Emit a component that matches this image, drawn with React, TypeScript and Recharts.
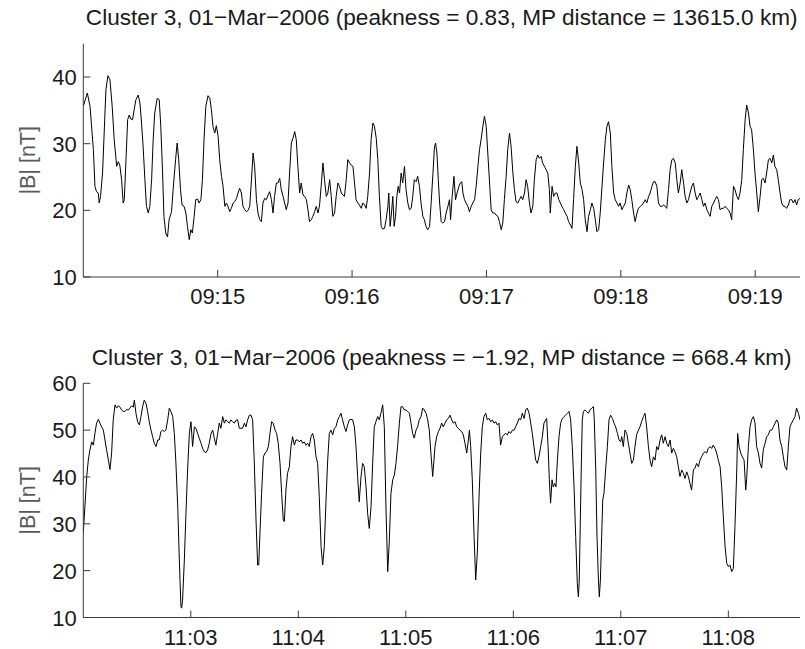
import React from 'react';
import { LineChart, Line, XAxis, YAxis } from 'recharts';

// ---- Data: [seconds since panel start, |B| in nT] ----
// Top panel: start 09:14:00
const topSamples: [number, number][] = [
  [0,35.6],[1.8,37.6],[3.0,35.6],[4.5,29.1],[5.2,23.6],[5.9,22.8],[6.7,22.6],[7.1,21.1],[7.7,22.1],[8.6,25.6],
  [9.2,30.6],[10.1,38.1],[11.0,40.2],[11.9,39.6],[12.9,35.6],[13.8,30.6],[14.9,26.6],[15.6,27.3],[16.3,26.8],[17.1,24.6],
  [17.8,21.1],[18.3,21.6],[19.0,27.1],[19.8,33.6],[20.5,34.3],[21.2,33.7],[22.0,33.6],[22.7,35.1],[23.5,36.6],[24.5,37.3],
  [25.3,36.1],[26.0,33.1],[26.7,29.6],[27.5,24.6],[28.2,20.6],[29.0,19.6],[29.7,20.6],[30.5,24.6],[31.2,30.6],[31.9,34.6],
  [33.0,36.8],[33.9,36.6],[34.6,32.6],[35.4,25.6],[36.0,19.1],[36.8,16.6],[37.6,16.0],[38.3,18.6],[39.4,19.8],[40.1,23.1],
  [41.2,27.6],[41.9,30.1],[42.6,27.6],[43.4,23.1],[44.1,20.8],[45.0,20.6],[45.8,19.6],[46.5,17.6],[47.3,15.6],[48.0,17.1],
  [48.7,16.6],[49.5,19.1],[50.2,21.6],[51.0,21.7],[51.7,21.1],[52.5,21.6],[53.2,24.6],[53.9,30.6],[54.7,35.6],[55.7,37.2],
  [56.5,36.8],[57.2,35.1],[57.9,32.6],[58.7,31.6],[59.4,32.7],[60.2,31.1],[60.9,27.6],[61.7,25.1],[62.4,23.6],[63.2,20.6],
  [63.9,21.1],[64.6,20.6],[65.4,19.8],[66.1,20.3],[66.9,21.1],[67.6,21.3],[68.4,21.8],[69.1,22.6],[69.8,23.3],[70.6,22.6],
  [71.3,20.6],[72.1,20.1],[72.8,19.8],[73.6,20.0],[74.3,20.6],[75.0,24.1],[75.8,28.6],[76.5,26.6],[77.3,21.6],[78.0,19.6],
  [78.8,18.6],[79.5,18.3],[80.2,21.1],[81.0,21.8],[81.7,21.6],[82.5,22.3],[83.2,22.8],[84.0,21.6],[84.7,19.6],[85.4,22.1],
  [86.2,24.1],[86.9,24.1],[87.7,24.8],[88.4,23.1],[89.2,22.1],[89.9,21.1],[90.6,20.1],[91.4,21.1],[92.1,25.6],[92.9,30.1],
  [93.6,30.8],[94.4,31.8],[95.1,30.6],[95.8,26.6],[96.6,22.6],[97.3,24.1],[98.1,22.3],[98.8,22.1],[99.6,21.6],[100.3,20.1],
  [101.0,18.3],[101.8,18.6],[102.5,19.1],[103.3,19.8],[104.0,20.6],[104.8,19.6],[105.5,20.8],[106.2,23.6],[107.0,27.1],[107.7,24.6],
  [108.5,22.1],[109.2,22.6],[110.0,24.6],[110.7,22.1],[111.4,19.1],[112.2,19.6],[112.9,22.1],[113.7,24.1],[114.4,23.6],[115.2,22.6],
  [115.9,22.3],[116.6,22.1],[117.4,24.6],[118.1,27.6],[118.9,27.1],[119.6,26.8],[120.4,26.6],[121.1,24.1],[121.8,21.6],[122.6,21.1],
  [123.3,20.8],[124.1,20.3],[124.8,21.1],[125.6,20.8],[126.3,20.3],[127.0,22.1],[127.8,25.6],[128.5,30.6],[129.3,33.1],[130.0,32.6],
  [130.8,30.8],[131.5,27.6],[132.2,22.1],[133.0,17.6],[133.7,17.2],[134.5,17.3],[135.2,18.6],[136.0,20.6],[136.4,22.6],[137.0,17.6],
  [137.6,19.6],[138.2,22.1],[138.8,17.6],[139.4,19.1],[140.0,22.1],[140.6,23.6],[141.2,22.6],[141.9,25.6],[142.6,24.1],[143.4,26.6],
  [144.1,23.1],[144.9,21.1],[145.6,20.1],[146.4,20.3],[147.1,22.1],[147.8,24.6],[148.6,24.3],[149.3,25.1],[150.1,23.6],[150.8,21.1],
  [151.6,19.1],[152.3,18.6],[153.0,17.6],[153.8,17.1],[154.6,17.6],[155.3,21.0],[156.1,25.5],[156.8,29.5],[157.3,30.1],[157.9,28.6],
  [158.5,24.6],[159.1,21.1],[159.8,18.3],[160.5,18.1],[161.3,18.3],[162.0,19.6],[162.8,20.6],[163.5,21.6],[164.0,18.6],[164.7,22.1],
  [165.5,25.1],[166.2,21.6],[166.9,22.6],[167.7,23.6],[168.3,24.1],[169.0,24.3],[169.5,22.6],[170.2,21.6],[170.9,21.1],[171.7,20.6],
  [172.4,19.8],[173.2,20.6],[173.9,21.1],[174.7,21.6],[175.4,23.6],[176.2,26.6],[176.9,29.1],[177.6,30.6],[178.4,32.6],[179.1,34.1],
  [179.9,32.6],[180.6,28.6],[181.4,24.1],[182.1,20.1],[182.8,19.6],[183.6,19.6],[184.3,19.3],[185.1,19.1],[185.8,18.3],[186.6,17.1],
  [187.3,18.1],[188.0,21.6],[188.8,25.1],[189.5,29.1],[190.3,31.6],[191.0,29.6],[191.8,25.6],[192.5,23.1],[193.2,21.3],[194.0,21.1],
  [194.7,21.6],[195.5,22.1],[196.2,21.6],[197.0,22.6],[197.7,24.6],[198.4,23.6],[199.2,21.1],[199.9,19.6],[200.7,20.6],[201.4,24.6],
  [202.2,27.6],[202.9,28.3],[203.6,27.8],[204.4,28.1],[205.1,27.1],[205.9,26.6],[206.6,26.1],[207.4,25.6],[208.1,23.1],[208.5,19.6],
  [209.3,23.6],[210.0,22.1],[210.8,22.6],[211.5,22.6],[212.3,21.6],[213.0,21.1],[213.7,20.6],[214.5,20.1],[215.2,19.6],[216.0,19.1],
  [216.7,18.3],[217.5,17.8],[218.2,17.3],[218.9,21.6],[219.7,26.6],[220.4,29.6],[221.2,27.1],[221.9,24.1],[222.7,23.1],[223.4,21.6],
  [224.1,18.6],[224.9,16.8],[225.6,19.1],[226.4,20.1],[227.1,21.1],[227.9,20.3],[228.6,18.6],[229.3,16.8],[230.1,17.1],[230.8,19.6],
  [231.6,23.6],[232.3,27.1],[233.1,30.6],[233.8,32.6],[234.5,33.3],[235.3,31.6],[236.0,26.6],[236.8,22.6],[237.5,21.6],[238.3,21.1],
  [239.0,20.6],[239.7,21.1],[240.5,20.1],[241.2,20.6],[242.0,21.1],[242.7,22.6],[243.5,23.8],[244.2,23.1],[244.9,21.6],[245.7,19.6],
  [246.4,18.3],[247.2,19.6],[247.9,20.3],[248.7,20.6],[249.4,20.8],[250.1,21.1],[250.9,21.6],[251.6,21.1],[252.4,22.1],[253.1,22.6],
  [253.9,23.6],[254.6,24.3],[255.3,24.3],[256.1,23.6],[256.8,21.1],[257.6,20.6],[258.3,20.6],[259.1,20.8],[259.8,20.6],[260.5,20.3],
  [261.3,23.1],[262.0,26.1],[262.8,27.6],[263.5,27.8],[264.3,27.1],[265.0,24.6],[265.7,22.6],[266.5,24.1],[267.2,26.1],[268.0,24.1],
  [268.7,22.1],[269.5,21.1],[270.2,21.6],[270.9,22.6],[271.7,23.6],[272.4,24.1],[273.2,22.6],[273.9,21.6],[274.7,22.1],[275.4,22.6],
  [276.2,21.6],[276.9,20.6],[277.6,21.1],[278.4,20.1],[279.1,19.6],[279.9,19.1],[280.6,20.6],[281.4,21.1],[282.1,21.6],[282.8,22.1],
  [283.6,21.6],[284.3,20.1],[285.1,20.3],[285.8,20.3],[286.6,20.6],[287.3,20.3],[288.0,20.1],[288.8,19.6],[289.5,18.6],[290.3,23.6],
  [291.0,23.1],[291.8,22.1],[292.5,21.6],[293.2,22.6],[294.0,24.6],[294.7,29.1],[295.5,33.6],[296.2,35.8],[297.0,34.6],[297.7,32.6],
  [298.4,32.1],[299.2,29.1],[299.9,25.6],[300.7,22.6],[301.4,19.8],[302.2,22.1],[302.9,24.6],[303.6,24.8],[304.4,24.1],[305.1,25.6],
  [305.9,27.6],[306.6,27.8],[307.4,27.1],[308.1,28.3],[308.8,26.6],[309.6,26.1],[310.3,24.6],[311.1,22.6],[311.8,21.1],[312.6,20.6],
  [313.3,20.6],[314.0,20.3],[314.8,20.8],[315.5,21.6],[316.3,21.6],[317.0,21.1],[317.8,21.6],[318.5,20.8],[319.2,21.6],[320.0,21.8],
];

// Bottom panel: start 11:02:00
const bottomSamples: [number, number][] = [
  [0.0,28.0],[0.9,33.7],[1.9,40.1],[2.8,43.6],[3.7,45.8],[4.7,47.5],[5.6,46.8],[6.5,49.3],[7.4,51.5],[8.4,52.3],
  [9.3,51.5],[10.2,50.7],[11.2,50.0],[12.1,47.9],[13.0,45.8],[14.0,43.6],[14.9,41.6],[15.8,45.1],[16.7,52.2],[17.7,55.4],
  [18.6,54.7],[19.5,55.2],[20.5,54.9],[21.4,54.3],[22.3,54.0],[23.3,54.0],[24.2,54.4],[25.1,54.3],[26.0,54.7],[27.0,55.2],
  [27.9,54.9],[28.5,56.4],[29.4,53.6],[30.3,51.8],[31.3,51.1],[32.2,52.9],[33.1,55.0],[34.0,56.4],[35.0,55.7],[35.9,54.0],
  [36.8,51.8],[37.8,50.0],[38.7,48.6],[39.6,47.2],[40.6,46.5],[41.5,47.9],[42.4,47.9],[43.3,49.7],[44.3,50.0],[45.2,49.7],
  [46.1,50.0],[47.1,52.2],[48.0,54.7],[48.9,54.0],[49.9,52.9],[50.8,49.3],[51.7,42.9],[52.7,33.7],[53.6,22.3],[54.5,12.3],
  [54.9,12.0],[55.4,13.7],[56.4,22.3],[57.3,32.2],[58.2,41.5],[59.2,49.3],[60.1,51.8],[61.0,46.5],[62.0,50.7],[62.9,50.4],
  [63.8,49.3],[64.7,48.3],[65.7,47.2],[66.6,46.1],[67.5,45.4],[68.5,45.2],[69.4,45.8],[70.3,47.2],[71.3,49.3],[72.2,50.0],
  [73.1,48.3],[74.0,46.8],[75.0,49.3],[75.9,51.5],[76.8,50.4],[77.8,52.9],[78.7,51.5],[79.6,52.2],[80.6,51.8],[81.5,51.5],
  [82.4,52.2],[83.3,51.8],[84.3,51.5],[85.2,52.1],[86.1,52.2],[87.1,50.4],[88.0,50.4],[88.9,50.4],[89.9,51.5],[90.8,50.7],
  [91.7,52.2],[92.7,53.2],[93.6,53.2],[94.5,52.2],[95.4,43.6],[96.4,30.8],[97.3,21.2],[97.9,21.2],[98.6,28.0],[99.5,36.5],
  [100.5,44.3],[101.4,45.1],[102.3,45.4],[103.3,46.5],[104.2,49.3],[105.1,51.8],[106.0,51.5],[107.0,50.0],[107.9,49.3],[108.8,47.2],
  [109.8,42.9],[110.7,36.5],[111.6,30.8],[112.2,30.5],[113.1,37.2],[114.0,40.8],[115.0,42.2],[115.9,46.5],[116.8,48.6],[117.8,46.8],
  [118.7,47.9],[119.6,47.9],[120.6,47.5],[121.5,47.9],[122.4,47.2],[123.3,47.5],[124.3,46.8],[125.2,47.2],[126.1,46.5],[127.1,48.6],
  [128.0,49.3],[128.9,47.9],[129.9,44.3],[130.8,42.9],[131.7,35.8],[132.7,25.1],[133.6,21.2],[134.5,25.1],[135.4,34.4],[136.4,43.6],
  [137.3,49.3],[138.2,50.0],[139.2,49.0],[140.1,50.4],[141.0,50.7],[142.0,52.2],[142.9,52.9],[143.8,53.6],[144.7,52.2],[145.7,50.7],
  [146.6,49.7],[147.5,51.1],[148.5,52.2],[149.4,52.3],[150.3,52.2],[151.3,50.7],[152.2,46.5],[153.1,40.1],[154.0,34.7],[155.0,40.1],
  [155.9,42.9],[156.8,42.2],[157.8,37.9],[158.7,32.2],[159.6,29.0],[160.6,33.7],[161.5,42.9],[162.4,50.7],[163.3,51.8],[164.3,52.9],
  [165.2,52.2],[166.1,53.6],[167.1,55.4],[168.0,50.7],[168.9,33.7],[169.9,19.8],[170.8,26.5],[171.7,36.5],[172.7,39.4],[173.6,40.4],
  [174.5,42.9],[175.4,46.5],[176.4,51.5],[177.3,55.0],[178.2,55.0],[179.2,54.3],[180.1,54.3],[181.0,54.0],[182.0,53.6],[182.9,51.5],
  [183.8,49.3],[184.7,48.3],[185.7,50.0],[186.6,50.7],[187.5,52.2],[188.5,52.9],[189.4,54.7],[190.3,54.3],[191.3,53.6],[192.2,52.2],
  [193.1,50.0],[194.0,45.1],[195.0,40.1],[196.3,46.5],[197.2,48.6],[198.2,49.7],[199.1,50.4],[200.0,51.5],[200.9,50.7],[201.9,51.5],
  [202.8,52.2],[203.7,52.5],[204.7,53.2],[205.6,52.2],[206.5,51.5],[207.5,51.8],[208.4,50.7],[209.3,50.4],[210.2,50.0],[211.2,49.7],
  [212.1,49.0],[213.0,47.2],[214.0,45.1],[214.9,47.9],[215.5,50.0],[216.2,46.5],[217.1,39.4],[218.1,27.3],[219.0,18.0],[219.9,23.7],
  [220.8,35.1],[221.8,45.1],[222.7,50.7],[223.6,52.9],[224.6,53.6],[225.5,52.2],[226.4,52.5],[227.4,51.8],[228.3,52.2],[229.2,51.5],
  [230.2,51.8],[231.1,51.1],[232.0,51.5],[232.9,46.8],[233.9,48.6],[234.8,49.0],[235.7,49.3],[236.7,49.0],[237.6,49.7],[238.5,49.3],
  [239.5,50.0],[240.4,50.0],[241.3,50.7],[242.2,51.5],[243.2,52.5],[244.1,52.2],[245.0,53.6],[246.0,52.5],[246.9,54.3],[247.8,54.7],
  [248.8,53.6],[249.7,51.5],[250.6,49.3],[251.5,46.5],[252.5,43.6],[253.4,42.9],[254.3,44.3],[255.3,46.5],[256.2,48.6],[257.1,51.5],
  [258.1,52.2],[258.6,52.5],[259.4,46.5],[260.1,39.4],[260.8,34.4],[261.6,39.4],[262.3,37.9],[263.1,38.6],[263.8,37.9],[264.6,43.6],
  [265.5,48.6],[266.4,51.5],[267.4,52.5],[268.3,52.9],[269.2,53.2],[270.2,53.6],[271.1,54.0],[272.0,52.2],[272.9,46.5],[273.9,37.9],
  [274.8,27.3],[275.7,17.3],[276.3,14.4],[276.8,18.0],[277.4,30.8],[278.0,43.6],[278.5,52.2],[279.1,54.0],[280.0,54.3],[280.9,54.0],
  [281.9,53.6],[282.8,54.3],[283.7,54.7],[284.7,55.0],[285.2,52.2],[286.0,41.5],[286.7,27.3],[287.5,18.0],[288.0,14.4],[288.6,18.0],
  [289.3,27.3],[289.9,35.1],[290.6,36.5],[291.5,41.5],[292.5,46.5],[293.4,52.2],[294.3,53.2],[295.3,52.5],[296.2,51.5],[297.1,50.7],
  [298.1,49.3],[299.0,47.9],[299.9,47.5],[300.5,48.6],[301.4,46.5],[302.3,50.0],[303.3,49.3],[304.2,47.2],[305.1,45.1],[306.1,42.9],
  [307.0,43.6],[307.9,46.5],[308.8,49.0],[309.8,50.0],[310.7,50.7],[311.6,51.8],[312.6,52.9],[313.5,53.6],[314.4,50.7],[315.4,46.5],
  [316.3,43.6],[317.2,42.2],[318.2,44.3],[319.1,43.6],[320.0,46.5],[320.9,45.8],[321.9,47.9],[322.8,49.0],[323.7,47.2],[324.7,48.6],
  [325.6,47.2],[326.5,46.5],[327.5,47.9],[328.4,45.1],[329.3,46.1],[330.2,45.4],[331.2,44.3],[332.1,42.2],[333.0,40.1],[334.0,41.5],
  [334.9,40.8],[335.8,39.7],[336.8,41.1],[337.7,40.1],[338.6,38.6],[339.5,37.2],[340.5,41.5],[341.4,41.9],[342.3,42.9],[343.3,42.2],
  [344.2,43.6],[345.1,44.3],[346.1,45.1],[347.0,45.4],[347.9,45.1],[348.8,46.1],[349.8,46.5],[350.7,46.1],[351.6,46.8],[352.6,46.1],
  [353.5,45.1],[354.4,43.6],[355.4,42.2],[356.3,37.9],[357.2,31.5],[358.2,25.1],[359.1,21.6],[360.0,20.9],[360.9,21.2],[361.9,19.8],
  [362.8,20.5],[363.7,29.4],[364.7,41.5],[365.2,49.3],[366.0,46.5],[366.9,45.1],[367.8,44.3],[368.8,43.6],[369.7,37.2],[370.2,39.4],
  [371.2,46.5],[372.1,50.7],[373.0,52.2],[374.0,52.9],[374.9,51.5],[375.8,46.5],[376.8,45.1],[377.7,42.9],[378.6,41.9],[379.5,45.8],
  [380.5,47.2],[381.4,48.6],[382.3,49.0],[383.3,50.0],[384.2,50.0],[385.1,50.7],[386.1,51.5],[387.0,52.2],[387.9,51.5],[388.8,47.9],
  [389.8,46.5],[390.7,44.3],[391.6,42.2],[392.6,41.5],[393.5,46.5],[394.4,50.7],[395.3,51.5],[396.3,52.2],[397.2,52.9],[398.1,54.7],
  [399.1,53.6],[400.0,52.2],
];

const topTimeTicks = [60, 120, 180, 240, 300];
const topTimeLabels = ['09:15', '09:16', '09:17', '09:18', '09:19'];
const topValueTicks = [10, 20, 30, 40];
const topTitle = 'Cluster 3, 01\u2212Mar\u22122006 (peakness = 0.83, MP distance = 13615.0 km)';

const bottomTimeTicks = [60, 120, 180, 240, 300, 360];
const bottomTimeLabels = ['11:03', '11:04', '11:05', '11:06', '11:07', '11:08'];
const bottomValueTicks = [10, 20, 30, 40, 50, 60];
const bottomTitle = 'Cluster 3, 01\u2212Mar\u22122006 (peakness = \u22121.92, MP distance = 668.4 km)';

const yLabel = '|B| [nT]';

// ---- Styling ----
const FONT = '"Liberation Sans", Arial, Helvetica, sans-serif';
const AXIS = '#3a3a3a';
const TEXT = '#1a1a1a';
const TL = 7;
const FS = 22;

function BottomTick(props: any) {
  const { x, y, payload, labels, ticks } = props;
  const i = ticks.indexOf(payload.value);
  return (
    <g>
      <line x1={x} x2={x} y1={y} y2={y - TL} stroke={AXIS} strokeWidth={1} />
      <text x={x} y={y + 27} textAnchor="middle" fontSize={FS} fontFamily={FONT} fill={TEXT}>
        {i >= 0 ? labels[i] : ''}
      </text>
    </g>
  );
}

function TopTick(props: any) {
  const { x, y } = props;
  return <line x1={x} x2={x} y1={y} y2={y + TL} stroke={AXIS} strokeWidth={1} />;
}

function LeftTick(props: any) {
  const { x, y, payload } = props;
  return (
    <g>
      <line x1={x} x2={x + TL} y1={y} y2={y} stroke={AXIS} strokeWidth={1} />
      <text x={x - 6.5} y={y + 8} textAnchor="end" fontSize={FS} fontFamily={FONT} fill={TEXT}>
        {payload.value}
      </text>
    </g>
  );
}

function RightTick(props: any) {
  const { x, y } = props;
  return <line x1={x} x2={x - TL} y1={y} y2={y} stroke={AXIS} strokeWidth={1} />;
}

interface PanelProps {
  samples: [number, number][];
  top: number;
  height: number;
  marginTop: number;
  plotHeight: number;
  xDomain: [number, number];
  yDomain: [number, number];
  xTicks: number[];
  xLabels: string[];
  yTicks: number[];
}

function Panel(p: PanelProps) {
  const data = p.samples.map(([t, v]) => ({ t, v }));
  const xAxisHeight = p.height - p.marginTop - p.plotHeight;
  return (
    <div style={{ position: 'absolute', left: 0, top: p.top, width: 805, height: p.height }}>
      <LineChart
        width={805}
        height={p.height}
        data={data}
        margin={{ top: p.marginTop, right: 5, bottom: 0, left: 0 }}
      >
        <XAxis
          xAxisId="b"
          dataKey="t"
          type="number"
          domain={p.xDomain}
          allowDataOverflow
          ticks={p.xTicks}
          interval={0}
          height={xAxisHeight}
          tickSize={0}
          tickMargin={0}
          tickLine={false}
          axisLine={{ stroke: AXIS, strokeWidth: 1 }}
          tick={<BottomTick labels={p.xLabels} ticks={p.xTicks} />}
        />
        <XAxis
          xAxisId="t"
          orientation="top"
          dataKey="t"
          type="number"
          domain={p.xDomain}
          allowDataOverflow
          ticks={p.xTicks}
          interval={0}
          height={0}
          tickSize={0}
          tickMargin={0}
          tickLine={false}
          axisLine={{ stroke: AXIS, strokeWidth: 1 }}
          tick={<TopTick />}
        />
        <YAxis
          yAxisId="l"
          type="number"
          domain={p.yDomain}
          allowDataOverflow
          ticks={p.yTicks}
          interval={0}
          width={83.3}
          tickSize={0}
          tickMargin={0}
          tickLine={false}
          axisLine={{ stroke: AXIS, strokeWidth: 1 }}
          tick={<LeftTick />}
        />
        <YAxis
          yAxisId="r"
          orientation="right"
          type="number"
          domain={p.yDomain}
          allowDataOverflow
          ticks={p.yTicks}
          interval={0}
          width={0}
          tickSize={0}
          tickMargin={0}
          tickLine={false}
          axisLine={{ stroke: AXIS, strokeWidth: 1 }}
          tick={<RightTick />}
        />
        <Line
          xAxisId="b"
          yAxisId="l"
          type="linear"
          dataKey="v"
          stroke="#000"
          strokeWidth={1}
          dot={false}
          activeDot={false}
          isAnimationActive={false}
        />
      </LineChart>
    </div>
  );
}

export default function App() {
  return (
    <div style={{ position: 'absolute', left: 0, top: 0, width: 805, height: 649, background: '#fff', overflow: 'hidden' }}>
      <Panel
        samples={topSamples}
        top={0}
        height={330}
        marginTop={43.7}
        plotHeight={233.3}
        xDomain={[0, 320]}
        yDomain={[10, 45]}
        xTicks={topTimeTicks}
        xLabels={topTimeLabels}
        yTicks={topValueTicks}
      />
      <Panel
        samples={bottomSamples}
        top={335}
        height={314}
        marginTop={48.3}
        plotHeight={234.2}
        xDomain={[0, 400]}
        yDomain={[10, 60]}
        xTicks={bottomTimeTicks}
        xLabels={bottomTimeLabels}
        yTicks={bottomValueTicks}
      />
      <svg width={805} height={649} style={{ position: 'absolute', left: 0, top: 0, pointerEvents: 'none' }}>
        <text x={441.7} y={25} textAnchor="middle" fontSize={22.6} fontFamily={FONT} fill={TEXT}>{topTitle}</text>
        <text x={441.7} y={365} textAnchor="middle" fontSize={22.6} fontFamily={FONT} fill={TEXT}>{bottomTitle}</text>
        <text transform="translate(35,160.3) rotate(-90)" textAnchor="middle" fontSize={21.5} fontFamily={FONT} fill="#5a5a5a">{yLabel}</text>
        <text transform="translate(35,500.4) rotate(-90)" textAnchor="middle" fontSize={21.5} fontFamily={FONT} fill="#5a5a5a">{yLabel}</text>
      </svg>
    </div>
  );
}
